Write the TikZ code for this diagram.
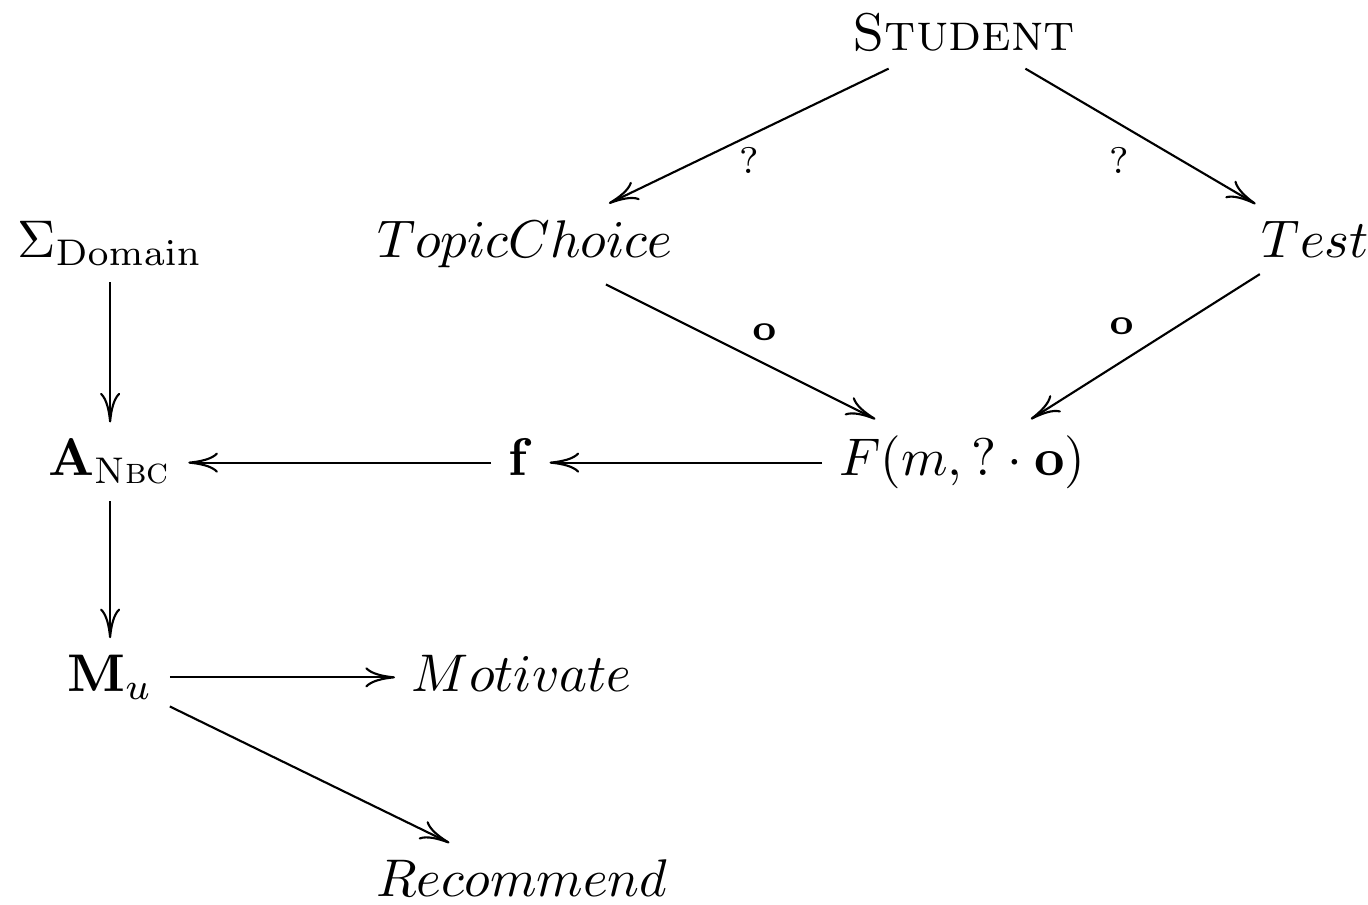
\documentclass[tikz,border=0pt]{standalone}
\usepackage{amsmath}
\usetikzlibrary{arrows.meta, positioning}

\begin{document}
\begin{tikzpicture}[>={Computer Modern Rightarrow[length=5.6pt, width=3.8pt]},
    obj/.style={anchor=base, inner sep=3pt},
    lbl/.style={font=\scriptsize, inner sep=2pt}]

    % 定义行列位置
    \def\cA{0.73}    % 左列
    \def\cB{3.46}    % 中列
    \def\cC{6.38}    % Student / F 列
    \def\cD{8.72}    % Test 列
    \def\rA{5.66}    % 各行基线
    \def\rB{4.29}
    \def\rC{2.84}
    \def\rD{1.41}
    \def\rE{0.05}

    \useasboundingbox (0,0) rectangle (9.07,5.995);

    % 1. 节点
    \node[obj] (student) at (\cC+0.01, \rA) {\textsc{Student}};
    \node[obj] (topic)   at (3.48, \rB) {$TopicChoice$};
    \node[obj] (test)    at (\cD, \rB) {$Test$};
    \node[obj] (sigma)   at (\cA, \rB) {$\Sigma_{\mathrm{Domain}}$};
    \node[obj] (anbc)    at (\cA, \rC) {$\mathbf{A}_{\textsc{Nbc}}$};
    \node[obj] (fvec)    at (3.45, \rC) {$\mathbf{f}$};
    \node[obj] (ffun)    at (\cC, \rC) {$F(m, ?\cdot\mathbf{o})$};
    \node[obj] (mu)      at (\cA, \rD) {$\mathbf{M}_u$};
    \node[obj] (motiv)   at (\cB, \rD) {$Motivate$};
    \node[obj] (recom)   at (\cB, \rE) {$Recommend$};

    % 2. 上半部分的箭头
    \draw[->] (student) -- node[lbl, below] {$?$} (topic);
    \draw[->] (student) -- node[lbl, below left] {$?$} (test);
    \draw[->] (topic) -- node[lbl, above right] {$\mathbf{o}$} (ffun);
    \draw[->] (test) -- node[lbl, above left] {$\mathbf{o}$} (ffun);

    % 3. 中间一行 (保持水平)
    \draw[->] (ffun.west) -- (fvec.east |- ffun.west);
    \draw[->] (fvec.west |- ffun.west) -- (anbc.east |- ffun.west);

    % 4. 左列及下方
    \draw[->] (sigma) -- (anbc);
    \draw[->] (anbc) -- (mu);
    \draw[->] (mu.east) -- (motiv.west |- mu.east);
    \draw[->] (mu) -- (recom);

\end{tikzpicture}
\end{document}
